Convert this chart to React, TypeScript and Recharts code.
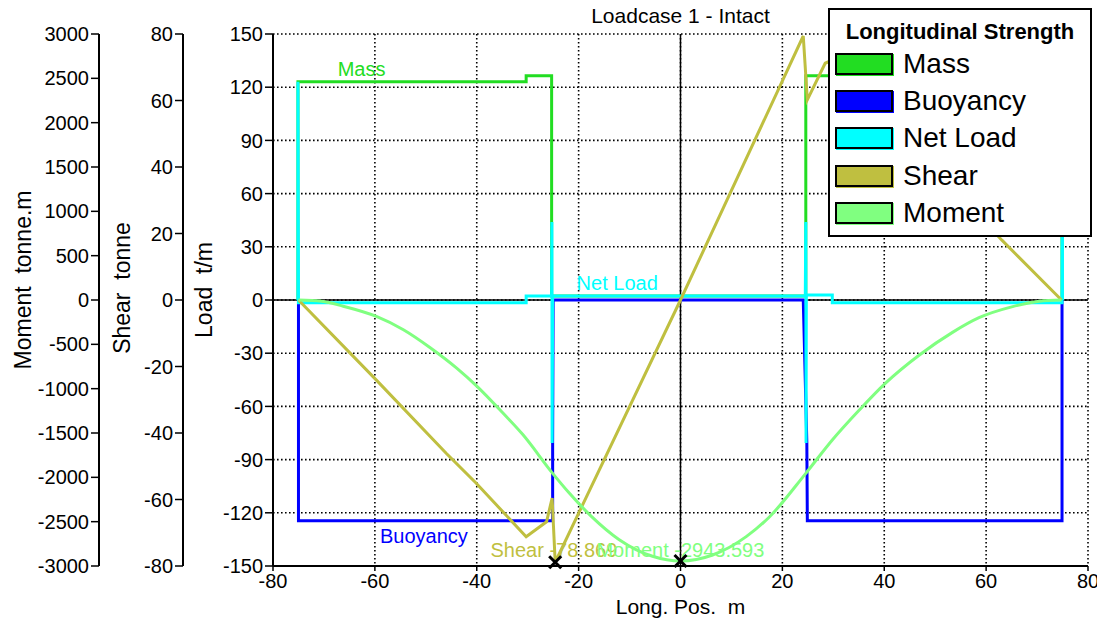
import React from "react";
import {
  ComposedChart,
  Line,
  XAxis,
  YAxis,
  CartesianGrid,
  ReferenceLine,
  ReferenceDot,
  Legend,
} from "recharts";

// Longitudinal strength plot: load curves (t/m), shear (tonne) and
// bending moment (tonne.m) along the hull, each on its own left axis.
// Left axes are stacked by id, so ids are prefixed to keep load innermost.

type Pt = [number, number];

const X_TICKS = [-80, -60, -40, -20, 0, 20, 40, 60, 80];
const LOAD_TICKS = [-150, -120, -90, -60, -30, 0, 30, 60, 90, 120, 150];
const SHEAR_TICKS = [-80, -60, -40, -20, 0, 20, 40, 60, 80];
const MOMENT_TICKS = [
  -3000, -2500, -2000, -1500, -1000, -500, 0, 500, 1000, 1500, 2000, 2500, 3000,
];

// [pos m, t/m]
const MASS: Pt[] = [
  [-75.1, 0], [-75.1, 123.1], [-30.3, 123.1], [-30.3, 126.5], [-25.3, 126.5],
  [-25.3, 2.3], [24.6, 2.3], [24.6, 126.5], [29.8, 126.5], [29.8, 123.1],
  [74.9, 123.1], [74.9, 0],
];
const BUOYANCY: Pt[] = [
  [-75.0, 0], [-75.0, -124.5], [-25.1, -124.5], [-25.1, -80], [-25.0, 0],
  [24.1, 0], [24.8, -80], [24.9, -124.5], [74.9, -124.5], [74.9, 0],
];
const NET_LOAD: Pt[] = [
  [-75.1, 0], [-75.1, 123.1], [-75.0, -1.5], [-30.3, -1.5], [-30.3, 2.3],
  [-25.3, 2.3], [-25.25, 44], [-25.2, -80.7], [-25.1, 2.3], [24.5, 2.3],
  [24.6, 44], [24.65, -80.7], [24.7, 2.8], [29.8, 2.8], [29.8, -1.5],
  [74.9, -1.5], [74.95, 123], [75.0, 0],
];
// [pos m, tonne]
const SHEAR: Pt[] = [
  [-75.0, 0], [-59.7, -24.1], [-46.0, -46.1], [-40.1, -55.1],
  [-30.3, -71.2], [-26.3, -66.7], [-25.2, -59.6], [-24.6, -78.869], [0, 0],
  [24.1, 79.4], [24.9, 60.2], [28.4, 71.2], [30.3, 72.5], [40.1, 55.5],
  [46.0, 46.0], [63.1, 18.0], [74.8, 0],
];
// [pos m, tonne.m]
const MOMENT: Pt[] = [
  [-75.0, 0], [-70.4, -14], [-66.2, -70], [-59.7, -185], [-54.4, -335],
  [-49.2, -535], [-44.0, -765], [-40.1, -965], [-34.9, -1272], [-31.0, -1515],
  [-25.1, -1955], [-21.8, -2180], [-17.5, -2440], [-12.1, -2700], [-5.5, -2890],
  [0, -2943.593], [6.3, -2876], [12.9, -2669], [17.5, -2444], [24.6, -1955],
  [29.8, -1579], [35.1, -1241], [40.3, -935], [46.9, -620], [53.4, -365],
  [58.6, -200], [65.2, -75], [70.4, -14], [74.8, 0],
];

const SHEAR_MIN: Pt = [-24.6, -78.869];
const MOMENT_MIN: Pt = [0, -2943.593];

const FONT = "'Liberation Sans', Arial, Helvetica, sans-serif";
const C_MASS = "#22DD22";
const C_BUOY = "#0000FF";
const C_NET = "#00FFFF";
const C_SHEAR = "#BFBF40";
const C_MOMENT = "#80FF80";

const Y_LOAD = "y1load";
const Y_SHEAR = "y2shear";
const Y_MOMENT = "y3moment";

const SERIES = [
  { name: "Mass", color: C_MASS, pts: MASS, axis: Y_LOAD, curve: "linear" },
  { name: "Buoyancy", color: C_BUOY, pts: BUOYANCY, axis: Y_LOAD, curve: "linear" },
  { name: "Net Load", color: C_NET, pts: NET_LOAD, axis: Y_LOAD, curve: "linear" },
  { name: "Shear", color: C_SHEAR, pts: SHEAR, axis: Y_SHEAR, curve: "linear" },
  { name: "Moment", color: C_MOMENT, pts: MOMENT, axis: Y_MOMENT, curve: "monotone" },
] as const;

// in-plot captions, anchored in load-axis units
const CAPTIONS = [
  { text: "Mass", color: C_MASS, x: -67.3, y: 126.5 },
  { text: "Net Load", color: C_NET, x: -20.4, y: 5.6 },
  { text: "Buoyancy", color: C_BUOY, x: -59.0, y: -137.2 },
  { text: "Shear -78.869", color: C_SHEAR, x: -37.3, y: -144.8 },
  { text: "Moment -2943.593", color: C_MOMENT, x: -16.5, y: -144.8 },
];

const rows = (pts: readonly Pt[]) => pts.map(([x, y]) => ({ x, y }));

const AXIS_LINE = { stroke: "#000", strokeWidth: 2 };
const TICK_LINE = { stroke: "#000", strokeWidth: 1.5 };
const TICK = { fill: "#000", fontSize: 20, fontFamily: FONT };

function AxisTitle(props: any) {
  const vb = props.viewBox || { x: 0, y: 0, width: 0, height: 0 };
  const cx = vb.x + vb.width - props.gap;
  const cy = vb.y + vb.height / 2 + props.shift;
  return (
    <text
      x={cx}
      y={cy}
      transform={`rotate(-90 ${cx} ${cy})`}
      textAnchor="middle"
      dominantBaseline="central"
      fontSize={23}
      fontFamily={FONT}
      fill="#000"
      style={{ whiteSpace: "pre" }}
    >
      {props.caption}
    </text>
  );
}

function XTitle(props: any) {
  const vb = props.viewBox || { x: 0, y: 0, width: 0, height: 0 };
  return (
    <text
      x={vb.x + vb.width / 2}
      y={vb.y + 48}
      textAnchor="middle"
      fontSize={21}
      fontFamily={FONT}
      fill="#000"
      style={{ whiteSpace: "pre" }}
    >
      {"Long. Pos.  m"}
    </text>
  );
}

function LegendBox() {
  return (
    <div
      style={{
        position: "relative",
        width: 264,
        height: 229,
        boxSizing: "border-box",
        border: "2px solid #000",
        background: "#fff",
        fontFamily: FONT,
        color: "#000",
      }}
    >
      <div
        style={{
          position: "absolute",
          top: 9,
          left: 0,
          right: 0,
          textAlign: "center",
          fontWeight: "bold",
          fontSize: 22,
          lineHeight: "26px",
        }}
      >
        Longitudinal Strength
      </div>
      {SERIES.map((s, i) => (
        <div
          key={s.name}
          style={{
            position: "absolute",
            left: 5,
            top: 39 + i * 37.2,
            height: 30,
            display: "flex",
            alignItems: "center",
          }}
        >
          <span
            style={{
              display: "inline-block",
              width: 58,
              height: 22,
              boxSizing: "border-box",
              background: s.color,
              border: "2px solid #000",
              boxShadow: `1px 1px 0 ${s.color}`,
            }}
          />
          <span style={{ marginLeft: 10, fontSize: 28, lineHeight: "30px" }}>{s.name}</span>
        </div>
      ))}
    </div>
  );
}

export default function App() {
  return (
    <div style={{ position: "relative", width: 1097, height: 615, fontFamily: FONT }}>
      <div
        style={{
          position: "absolute",
          top: -2,
          left: 265,
          width: 815,
          textAlign: "center",
          fontSize: 21,
          lineHeight: "20px",
          color: "#000",
        }}
      >
        Loadcase 1 - Intact
      </div>
      <ComposedChart width={1097} height={615} margin={{ top: 26, right: 17, bottom: 0, left: 0 }}>
        <XAxis
          xAxisId="x"
          type="number"
          dataKey="x"
          domain={[-80, 80]}
          ticks={X_TICKS}
          allowDataOverflow
          height={57}
          axisLine={AXIS_LINE}
          tickLine={TICK_LINE}
          tickSize={5}
          tickMargin={3}
          tick={TICK}
          label={<XTitle />}
        />
        <YAxis
          yAxisId={Y_LOAD}
          orientation="left"
          type="number"
          domain={[-150, 150]}
          ticks={LOAD_TICKS}
          allowDataOverflow
          width={90}
          axisLine={AXIS_LINE}
          tickLine={TICK_LINE}
          tickSize={8}
          tickMargin={2}
          tick={TICK}
          label={<AxisTitle caption="Load  t/m" gap={69} shift={-10} />}
        />
        <YAxis
          yAxisId={Y_SHEAR}
          orientation="left"
          type="number"
          domain={[-80, 80]}
          ticks={SHEAR_TICKS}
          allowDataOverflow
          width={84}
          axisLine={AXIS_LINE}
          tickLine={TICK_LINE}
          tickSize={8}
          tickMargin={2}
          tick={TICK}
          label={<AxisTitle caption="Shear  tonne" gap={61} shift={-12} />}
        />
        <YAxis
          yAxisId={Y_MOMENT}
          orientation="left"
          type="number"
          domain={[-3000, 3000]}
          ticks={MOMENT_TICKS}
          allowDataOverflow
          width={91}
          axisLine={AXIS_LINE}
          tickLine={TICK_LINE}
          tickSize={8}
          tickMargin={2}
          tick={TICK}
          label={<AxisTitle caption="Moment  tonne.m" gap={76} shift={-20} />}
        />
        <CartesianGrid
          xAxisId="x"
          yAxisId={Y_LOAD}
          stroke="#000"
          strokeWidth={1.6}
          strokeDasharray="1.6 2.4"
        />
        <ReferenceLine xAxisId="x" yAxisId={Y_LOAD} x={0} stroke="#000" strokeWidth={1.5} />
        <ReferenceLine xAxisId="x" yAxisId={Y_LOAD} y={0} stroke="#000" strokeWidth={1.5} />
        {SERIES.map((s) => (
          <Line
            key={s.name}
            xAxisId="x"
            yAxisId={s.axis}
            data={rows(s.pts)}
            dataKey="y"
            name={s.name}
            type={s.curve}
            stroke={s.color}
            strokeWidth={3}
            dot={false}
            activeDot={false}
            isAnimationActive={false}
          />
        ))}
        {CAPTIONS.map((c) => (
          <ReferenceDot
            key={c.text}
            xAxisId="x"
            yAxisId={Y_LOAD}
            x={c.x}
            y={c.y}
            r={0}
            shape={(p: any) => (
              <text
                x={p.cx}
                y={p.cy}
                fontSize={20}
                fontFamily={FONT}
                fill={c.color}
                style={{ whiteSpace: "pre" }}
              >
                {c.text}
              </text>
            )}
          />
        ))}
        {[
          { axis: Y_SHEAR, pt: SHEAR_MIN },
          { axis: Y_MOMENT, pt: MOMENT_MIN },
        ].map((m) => (
          <ReferenceDot
            key={m.axis}
            xAxisId="x"
            yAxisId={m.axis}
            x={m.pt[0]}
            y={m.pt[1]}
            r={0}
            shape={(p: any) => (
              <g stroke="#000" strokeWidth={3}>
                <line x1={p.cx - 6} y1={p.cy - 6} x2={p.cx + 6} y2={p.cy + 6} />
                <line x1={p.cx - 6} y1={p.cy + 6} x2={p.cx + 6} y2={p.cy - 6} />
              </g>
            )}
          />
        ))}
        <Legend
          layout="horizontal"
          verticalAlign="middle"
          align="center"
          wrapperStyle={{ top: 0, left: 820, width: 264, height: 229 }}
          content={() => <LegendBox />}
        />
      </ComposedChart>
    </div>
  );
}
